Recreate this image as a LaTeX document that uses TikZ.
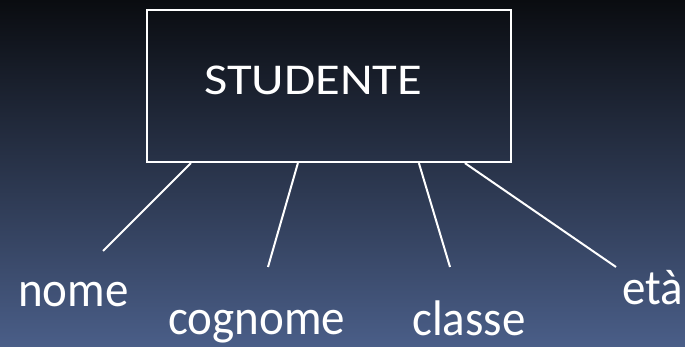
\documentclass[tikz,border=0pt]{standalone}
\usepackage{fontspec}
\setmainfont{Carlito}
\usetikzlibrary{calc}
\definecolor{bgtop}{RGB}{10,12,16}
\definecolor{bgbot}{RGB}{74,94,136}
\tikzset{
  entbox/.style={draw=white, line width=2.2pt, minimum width=364pt, minimum height=152pt, inner sep=0pt},
  entname/.style={text=white, font=\fontsize{44}{48}\selectfont, anchor=base west, inner sep=0pt, xscale=1.15, transform shape},
  attr/.style={text=white, font=\fontsize{50}{54}\selectfont, anchor=base west, inner sep=0pt, xscale=0.94, transform shape},
  conn/.style={draw=white, line width=2pt}
}
\begin{document}
\begin{tikzpicture}[x=1pt,y=1pt]
\shade[top color=bgtop, bottom color=bgbot] (0,0) rectangle (685,347);
\useasboundingbox (0,0) rectangle (685,347);
\node[entbox] (ent) at (329,261) {};
\node[entname] (entlbl) at (204,252) {STUDENTE};
\node[attr] (nome) at (18,40) {nome};
\node[attr] (cognome) at (168,12) {cognome};
\node[attr] (classe) at (412,11) {classe};
\node[attr] (eta) at (622,42) {età};
\coordinate (c1) at (103,96);
\coordinate (c2) at (268,80);
\coordinate (c3) at (450,80);
\coordinate (c4) at (616,80);
\draw[conn] ($(ent.south west)+(45,0)$) -- (c1);
\draw[conn] ($(ent.south west)+(152,0)$) -- (c2);
\draw[conn] ($(ent.south west)+(273,0)$) -- (c3);
\draw[conn] ($(ent.south west)+(319,0)$) -- (c4);
\end{tikzpicture}
\end{document}
